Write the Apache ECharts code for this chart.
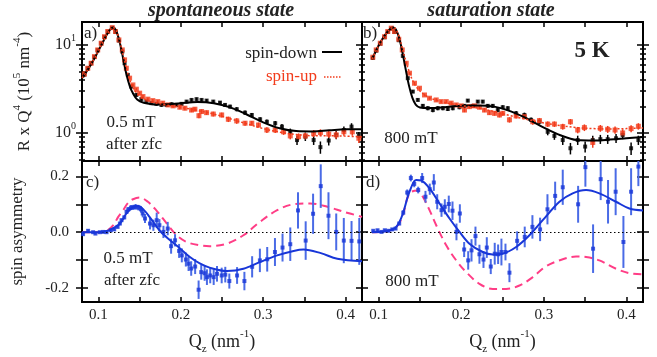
<!DOCTYPE html>
<html>
<head>
<meta charset="utf-8">
<script src="https://cdn.jsdelivr.net/npm/echarts@6/dist/echarts.min.js"></script>
<style>html,body{margin:0;padding:0;background:#fff}#chart{width:657px;height:357px}</style>
</head>
<body>
<div id="chart"></div>
<script>
var FONT = 'Liberation Serif';

// axis ticks and labels
var X_TICKS = [0.1, 0.15, 0.2, 0.25, 0.3, 0.35, 0.4];
var X_LABELS = [0.1, 0.2, 0.3, 0.4];
var LOG_MAJOR = [1, 10];
var LOG_MINOR = [0.5, 0.6, 0.7, 0.8, 0.9, 2, 3, 4, 5, 6, 7, 8, 9];
var ASYM_TICKS = [-0.2, -0.1, 0, 0.1, 0.2];
var ASYM_LABELS = [-0.2, 0, 0.2];

// a) spontaneous state, R x Q^4  [Qz, value]
var downA = [[0.0829,4.6],[0.087,5.4],[0.0911,6.2],[0.0951,7.3],[0.0991,8.7],[0.1033,10.4],[0.1073,12.3],[0.1113,14.1],[0.1167,15.6],[0.1207,14.0],[0.1248,11.2],[0.1289,8.4],
  [0.1317,6.19],[0.1357,4.56],[0.1399,3.36],[0.146,2.70],[0.1521,2.42],[0.1582,2.27],[0.1643,2.18],[0.1704,2.14],[0.1765,2.08],[0.1826,2.08],[0.1887,2.12],[0.1948,2.08],
  [0.2009,2.14],[0.207,2.27],[0.213,2.37],[0.2191,2.42],[0.2252,2.37],[0.2313,2.33],[0.2394,2.27],[0.2476,2.21],[0.2537,2.08],[0.2598,1.99],[0.2679,1.86],[0.278,1.70],
  [0.2862,1.60],[0.2963,1.43],[0.3045,1.34],[0.3146,1.29],[0.3228,1.18],[0.3329,1.03],[0.3411,0.83],[0.3512,0.91],[0.3613,0.83],[0.3695,0.69],[0.3796,0.82],[0.3887,0.95],
  [0.398,1.08],[0.4073,1.18],[0.4162,0.925]];
var errDownA = [0.3,0.3,0.3,0.3,0.3,0.3,0.3,0.3,0.3,0.3,0.3,0.3,
  0.3,0.2,0.15,0.12,0.1,0.1,0.1,0.1,0.1,0.1,0.1,0.1,
  0.1,0.1,0.1,0.1,0.1,0.1,0.1,0.1,0.1,0.1,0.1,0.1,
  0.08,0.08,0.08,0.08,0.08,0.09,0.1,0.1,0.1,0.11,0.1,0.1,
  0.1,0.11,0.1];
var upA = [[0.0829,4.68],[0.087,5.43],[0.0911,6.19],[0.0951,7.36],[0.0991,8.77],[0.1033,10.45],[0.1073,12.4],[0.1113,14.2],[0.1167,15.7],[0.1207,14.2],[0.1248,11.4],[0.1289,8.77],
  [0.1317,6.76],[0.1338,5.43],[0.1378,4.19],[0.1418,3.51],[0.146,3.14],[0.15,2.83],[0.154,2.59],[0.16,2.42],[0.166,2.33],[0.172,2.27],[0.178,2.18],[0.1845,2.08],
  [0.1906,2.03],[0.1988,1.96],[0.2049,1.91],[0.213,1.82],[0.2171,1.86],[0.222,1.57],[0.2252,1.75],[0.2313,1.70],[0.2394,1.64],[0.2496,1.60],[0.2577,1.43],[0.2679,1.37],
  [0.278,1.29],[0.2862,1.29],[0.2943,1.23],[0.3045,1.08],[0.3146,1.08],[0.3248,1.03],[0.3329,0.925],[0.343,0.908],[0.3512,0.925],[0.3613,0.99],[0.3695,1.01],[0.3796,0.97],
  [0.3887,0.95],[0.398,1.03],[0.4082,1.03],[0.4162,0.87]];
var errUpA = [0.3,0.3,0.3,0.3,0.3,0.3,0.3,0.3,0.3,0.3,0.3,0.3,
  0.25,0.2,0.15,0.12,0.1,0.1,0.1,0.1,0.1,0.1,0.1,0.1,
  0.1,0.1,0.1,0.1,0.1,0.1,0.1,0.1,0.1,0.1,0.1,0.1,
  0.08,0.08,0.08,0.08,0.08,0.08,0.08,0.08,0.08,0.09,0.09,0.09,
  0.09,0.1,0.1,0.1];
var fitDownA = [[0.08,4.2],[0.085,4.9],[0.09,5.8],[0.095,7.0],[0.1,8.6],[0.105,10.6],[0.11,13.0],[0.115,15.3],[0.118,15.8],[0.121,14.8],[0.125,11.5],[0.13,7.0],[0.134,4.6],
  [0.138,3.4],[0.142,2.8],[0.147,2.4],[0.155,2.2],[0.165,2.12],[0.18,2.1],[0.2,2.18],[0.22,2.25],[0.24,2.18],[0.26,1.95],[0.28,1.62],[0.3,1.32],[0.32,1.13],[0.34,1.05],
  [0.36,1.04],[0.38,1.07],[0.4,1.1],[0.42,1.1]];
var fitUpA = [[0.08,4.2],[0.085,4.9],[0.09,5.8],[0.095,7.0],[0.1,8.6],[0.105,10.6],[0.11,13.0],[0.115,15.3],[0.118,15.8],[0.121,14.8],[0.125,11.8],[0.13,7.6],[0.134,5.4],
  [0.138,4.0],[0.142,3.3],[0.147,2.8],[0.155,2.45],[0.165,2.25],[0.18,2.1],[0.2,1.95],[0.22,1.8],[0.24,1.64],[0.26,1.45],[0.28,1.27],[0.3,1.12],[0.32,1.02],[0.34,0.96],
  [0.36,0.93],[0.38,0.93],[0.4,0.92],[0.42,0.9]];

// b) saturation state, R x Q^4
var downB = [[0.0931,7.1],[0.0972,8.6],[0.1021,10.3],[0.1073,12.2],[0.1112,14.0],[0.1154,15.3],[0.1193,14.0],[0.1245,11.3],
  [0.1294,7.5],[0.1354,4.19],[0.1415,2.95],[0.1475,2.37],[0.1536,2.03],[0.1596,1.91],[0.1657,1.82],[0.1717,1.91],[0.1778,1.91],[0.1838,1.87],[0.1898,1.91],[0.1979,1.96],
  [0.204,2.03],[0.208,2.33],[0.214,2.03],[0.2201,2.27],[0.2261,2.27],[0.2322,2.03],[0.2382,2.03],[0.2443,1.82],[0.2503,1.96],[0.2564,1.91],[0.2665,1.67],[0.2765,1.60],
  [0.2846,1.41],[0.2947,1.34],[0.3047,1.03],[0.3128,0.925],[0.3229,0.83],[0.3322,0.67],[0.341,0.83],[0.35,0.70],[0.3592,0.83],[0.3684,0.85],[0.3773,0.85],[0.3874,0.87],
  [0.3954,0.95],[0.4056,0.67],[0.4144,0.83]];
var errDownB = [0.3,0.3,0.3,0.3,0.3,0.3,0.3,0.3,
  0.3,0.15,0.12,0.1,0.1,0.1,0.1,0.1,0.1,0.1,0.1,0.1,
  0.1,0.1,0.1,0.1,0.1,0.1,0.1,0.1,0.1,0.1,0.1,0.1,
  0.09,0.09,0.09,0.09,0.1,0.1,0.1,0.1,0.1,0.1,0.1,0.1,
  0.1,0.11,0.1];
var upB = [[0.0931,7.25],[0.0972,8.77],[0.1021,10.45],[0.1073,12.4],[0.1112,14.2],[0.1154,15.5],[0.1193,14.2],[0.1245,11.6],[0.1287,8.77],[0.1335,6.19],[0.1375,4.77],
  [0.1435,3.67],[0.1496,3.22],[0.1556,2.70],[0.1617,2.48],[0.1698,2.37],[0.1758,2.27],[0.1819,2.27],[0.1879,2.18],[0.194,2.08],[0.2,2.03],[0.204,1.82],[0.21,1.99],
  [0.2161,2.03],[0.2221,1.96],[0.2282,1.82],[0.2342,1.70],[0.2403,1.67],[0.2463,1.60],[0.2503,1.67],[0.2584,1.41],[0.2665,1.56],[0.2765,1.53],[0.2866,1.34],[0.2947,1.38],
  [0.3047,1.26],[0.3128,1.26],[0.3229,1.18],[0.3322,1.34],[0.341,1.08],[0.3491,1.15],[0.3592,0.78],[0.3684,1.13],[0.3773,1.10],[0.3862,1.08],[0.3954,1.0],[0.4056,1.12],
  [0.4144,1.19]];
var errUpB = [0.3,0.3,0.3,0.3,0.3,0.3,0.3,0.3,0.3,0.2,0.15,
  0.12,0.12,0.1,0.1,0.1,0.1,0.1,0.1,0.1,0.1,0.1,0.1,
  0.1,0.1,0.1,0.1,0.1,0.1,0.1,0.1,0.1,0.1,0.1,0.1,
  0.09,0.09,0.09,0.1,0.09,0.1,0.1,0.1,0.1,0.1,0.1,0.1,
  0.1];
var fitDownB = [[0.092,6.9],[0.096,8.2],[0.1,9.8],[0.105,11.8],[0.11,13.8],[0.115,15.4],[0.118,15.8],[0.121,15.0],[0.125,12.0],[0.129,8.2],[0.133,5.2],[0.137,3.4],
  [0.141,2.5],[0.145,2.1],[0.15,1.95],[0.16,1.92],[0.17,1.92],[0.18,1.96],[0.2,2.03],[0.22,2.05],[0.24,1.99],[0.26,1.76],[0.28,1.45],[0.3,1.15],[0.32,0.94],[0.34,0.83],
  [0.36,0.82],[0.38,0.84],[0.4,0.87],[0.42,0.9]];
var fitUpB = [[0.092,6.9],[0.096,8.2],[0.1,9.8],[0.105,11.8],[0.11,13.8],[0.115,15.4],[0.118,15.8],[0.121,15.0],[0.125,12.4],[0.129,9.0],[0.133,6.6],[0.137,5.0],
  [0.141,4.0],[0.145,3.4],[0.15,3.0],[0.16,2.55],[0.17,2.35],[0.18,2.22],[0.2,2.05],[0.22,1.92],[0.24,1.75],[0.26,1.57],[0.28,1.42],[0.3,1.3],[0.32,1.21],[0.34,1.15],
  [0.36,1.12],[0.38,1.11],[0.4,1.12],[0.42,1.14]];

// c) spontaneous state, spin asymmetry  [Qz, value, error]
var asymC = [[0.0813,-0.007,0.005],[0.0874,0.005,0.005],[0.0935,0.0,0.004],[0.0963,-0.005,0.004],[0.1016,0.0,0.004],[0.1057,0.001,0.004],[0.1098,0.0,0.004],
  [0.115,0.007,0.005],[0.1191,0.01,0.005],[0.1232,0.019,0.005],[0.126,0.031,0.006],[0.128,0.043,0.006],[0.1313,0.053,0.007],[0.1341,0.073,0.008],[0.1362,0.082,0.008],
  [0.1394,0.088,0.009],[0.1423,0.089,0.009],[0.1451,0.091,0.01],[0.1484,0.088,0.01],[0.1516,0.082,0.012],[0.1537,0.067,0.014],[0.1565,0.049,0.016],[0.1626,0.031,0.021],
  [0.1667,0.025,0.02],[0.1707,0.043,0.027],[0.174,0.025,0.022],[0.1789,0.001,0.022],[0.1841,0.013,0.024],[0.1882,-0.05,0.027],[0.193,-0.029,0.022],[0.1979,-0.067,0.025],
  [0.2012,-0.083,0.025],[0.2061,-0.098,0.025],[0.2094,-0.113,0.026],[0.2126,-0.13,0.026],[0.2174,-0.123,0.027],[0.2216,-0.206,0.033],[0.2248,-0.143,0.027],
  [0.2289,-0.147,0.027],[0.2317,-0.161,0.028],[0.2357,-0.155,0.028],[0.2399,-0.161,0.028],[0.2439,-0.149,0.028],[0.2496,-0.155,0.028],[0.254,-0.152,0.028],
  [0.2589,-0.175,0.027],[0.2683,-0.155,0.03],[0.2772,-0.175,0.033],[0.2866,-0.124,0.038],[0.296,-0.101,0.042],[0.3049,-0.097,0.044],[0.3143,-0.071,0.05],
  [0.3235,-0.055,0.05],[0.3329,-0.043,0.06],[0.3423,0.078,0.065],[0.3516,-0.03,0.069],[0.3606,0.066,0.072],[0.3699,0.165,0.078],[0.3793,0.059,0.084],
  [0.3887,0.001,0.066],[0.3979,-0.03,0.081],[0.4073,-0.031,0.071],[0.4167,-0.033,0.084]];
var fitAsymC = [[0.08,0],[0.1,0],[0.11,0.004],[0.118,0.015],[0.126,0.031],[0.134,0.067],[0.142,0.09],[0.148,0.094],[0.155,0.08],[0.162,0.055],[0.174,0.007],
  [0.187,-0.029],[0.199,-0.058],[0.211,-0.089],[0.223,-0.112],[0.235,-0.127],[0.256,-0.139],[0.276,-0.131],[0.296,-0.107],[0.317,-0.083],[0.337,-0.067],[0.349,-0.062],
  [0.37,-0.075],[0.39,-0.095],[0.42,-0.104]];
var simAsymC = [[0.08,0],[0.1,0],[0.11,0.005],[0.118,0.025],[0.124,0.055],[0.13,0.079],[0.136,0.105],[0.142,0.118],[0.15,0.124],[0.16,0.109],[0.17,0.079],
  [0.183,0.031],[0.195,-0.011],[0.207,-0.035],[0.223,-0.047],[0.235,-0.05],[0.256,-0.041],[0.276,-0.011],[0.296,0.037],[0.317,0.079],[0.337,0.1],[0.357,0.103],
  [0.378,0.091],[0.398,0.073],[0.42,0.055]];

// d) saturation state, spin asymmetry
var asymD = [[0.0936,0.005,0.004],[0.0988,0.007,0.004],[0.1036,0.001,0.004],[0.1076,0.007,0.004],[0.1117,0.005,0.004],[0.1166,0.01,0.005],[0.1206,0.013,0.005],
  [0.125,0.031,0.006],[0.1299,0.07,0.009],[0.1347,0.142,0.011],[0.1391,0.194,0.012],[0.1432,0.173,0.012],[0.148,0.151,0.012],[0.1528,0.194,0.018],[0.1568,0.127,0.021],
  [0.162,0.154,0.02],[0.1669,0.178,0.03],[0.171,0.109,0.027],[0.1762,0.079,0.024],[0.1802,0.091,0.027],[0.185,0.101,0.03],[0.1895,0.077,0.033],[0.1943,0.001,0.03],
  [0.1984,0.067,0.033],[0.2036,-0.062,0.027],[0.2085,-0.101,0.033],[0.2125,-0.065,0.04],[0.2173,-0.014,0.034],[0.2221,-0.079,0.034],[0.227,-0.098,0.03],
  [0.231,-0.055,0.037],[0.2358,-0.123,0.027],[0.2406,-0.077,0.039],[0.2447,-0.079,0.035],[0.2487,-0.071,0.048],[0.2536,-0.071,0.03],[0.2584,-0.145,0.034],
  [0.2677,-0.031,0.034],[0.2769,-0.017,0.037],[0.2862,0.019,0.042],[0.2955,0.01,0.042],[0.3044,0.082,0.054],[0.3137,0.13,0.051],[0.3229,0.161,0.063],
  [0.3415,0.1,0.066],[0.3503,0.233,0.07],[0.3596,-0.059,0.087],[0.3688,0.19,0.075],[0.3777,0.109,0.078],[0.3869,0.145,0.084],[0.3963,-0.035,0.093],
  [0.4056,0.145,0.084],[0.4144,0.235,0.07]];
var fitAsymD = [[0.092,0],[0.11,0.003],[0.12,0.015],[0.125,0.035],[0.1295,0.067],[0.1375,0.145],[0.1456,0.187],[0.1516,0.185],[0.1617,0.157],[0.1738,0.103],
  [0.1859,0.049],[0.198,0.001],[0.21,-0.041],[0.2261,-0.071],[0.2382,-0.08],[0.2503,-0.077],[0.2665,-0.053],[0.2826,-0.011],[0.2987,0.043],[0.3189,0.109],
  [0.3349,0.139],[0.3511,0.151],[0.3672,0.139],[0.3874,0.109],[0.4035,0.085],[0.42,0.078]];
var simAsymD = [[0.092,0],[0.11,0.003],[0.12,0.015],[0.125,0.032],[0.1295,0.061],[0.1375,0.139],[0.1475,0.149],[0.1536,0.127],[0.1617,0.079],[0.1698,0.025],
  [0.1819,-0.047],[0.194,-0.101],[0.2061,-0.143],[0.2221,-0.185],[0.2382,-0.203],[0.2544,-0.203],[0.2705,-0.191],[0.2866,-0.161],[0.3028,-0.122],[0.3229,-0.097],
  [0.339,-0.087],[0.3511,-0.089],[0.3672,-0.101],[0.3874,-0.131],[0.4035,-0.147],[0.42,-0.151]];

var chart = echarts.init(document.getElementById('chart'));

var grids = [
    {left: 82, top: 22, width: 280, height: 139},
    {left: 362, top: 22, width: 281, height: 139},
    {left: 82, top: 161, width: 280, height: 141},
    {left: 362, top: 161, width: 281, height: 141}
];

// rich styles for super/subscripts: a tall line box pushes them up or down
function scriptRich(size, lh) {
    return {
        sup: {fontSize: size, fontFamily: FONT, color: '#222', lineHeight: lh, verticalAlign: 'top'},
        sub: {fontSize: size, fontFamily: FONT, color: '#222', lineHeight: lh, verticalAlign: 'bottom'}
    };
}

var xAxes = [], yAxes = [];

function xAx(g, pos, extra) {
    xAxes.push(Object.assign({
        gridIndex: g, type: 'value', min: 0.08, max: 0.42, position: pos,
        splitLine: {show: false},
        axisLine: {show: true, onZero: false, lineStyle: {color: '#000', width: 2}},
        axisTick: {show: true, inside: true, length: 5, customValues: X_TICKS, lineStyle: {color: '#000', width: 1.5}},
        axisLabel: {show: false}
    }, extra || {}));
}

function yAx(g, pos, ticks, len, inside, extra) {
    var top = g < 2;
    yAxes.push(Object.assign({
        gridIndex: g, position: pos,
        type: top ? 'log' : 'value', logBase: 10,
        min: top ? 0.48 : -0.25, max: top ? 18.2 : 0.255,
        splitLine: {show: false},
        axisLine: {show: true, onZero: false, lineStyle: {color: '#000', width: 2}},
        axisTick: {show: true, inside: inside, length: len, customValues: ticks, lineStyle: {color: '#000', width: 1.5}},
        axisLabel: {show: false}
    }, extra || {}));
}

// main axes: index g belongs to grid g
for (var g = 0; g < 4; g++) {
    var bottomRow = g >= 2;
    xAx(g, 'bottom', bottomRow ? {
        axisLabel: {show: true, customValues: X_LABELS, margin: 6, color: '#222', fontFamily: FONT, fontSize: 15,
            formatter: function (v) { return v.toFixed(1); }},
        name: 'Q{sub|z} (nm{sup|-1})', nameLocation: 'middle', nameGap: 27,
        nameTextStyle: {fontFamily: FONT, fontSize: 18, color: '#222', rich: scriptRich(11, 26)}
    } : {});
}
for (var g = 0; g < 4; g++) {
    var topRow = g < 2;
    var extra = {};
    if (g === 0) {
        extra = {
            axisLabel: {show: true, customValues: LOG_MAJOR, margin: 6, color: '#222', fontFamily: FONT, fontSize: 16,
                formatter: function (v) { return v > 5 ? '10{sup|1}' : '10{sup|0}'; }, rich: scriptRich(10, 24)},
            name: 'R x Q{sup|4} (10{sup|5} nm{sup|-4})', nameLocation: 'middle', nameGap: 44, nameRotate: 90,
            nameTextStyle: {fontFamily: FONT, fontSize: 17, color: '#222', rich: scriptRich(11, 26)}
        };
    }
    if (g === 2) {
        extra = {
            axisLabel: {show: true, customValues: ASYM_LABELS, margin: 13, color: '#222', fontFamily: FONT, fontSize: 15,
                formatter: function (v) { return v.toFixed(1); }},
            name: 'spin asymmetry', nameLocation: 'middle', nameGap: 56, nameRotate: 90,
            nameTextStyle: {fontFamily: FONT, fontSize: 17, color: '#222'}
        };
    }
    yAx(g, 'left', topRow ? LOG_MAJOR : ASYM_TICKS, 6, true, extra);
}

// decoration axes (ticks only)
for (var g = 0; g < 4; g++) {
    var topRow = g < 2;
    xAx(g, 'top');
    yAx(g, 'right', topRow ? LOG_MAJOR : ASYM_TICKS, 6, true);
    if (topRow) {
        yAx(g, 'left', LOG_MINOR, 3, true);
        yAx(g, 'right', LOG_MINOR, 3, true);
    }
    var outer = (g % 2 === 0) ? 'left' : 'right';
    yAx(g, outer, topRow ? LOG_MAJOR : ASYM_TICKS, 6, false);
    if (topRow) yAx(g, outer, LOG_MINOR, 3, false);
}

function pts(arr) { return arr.map(function (p) { return [p[0], p[1]]; }); }

function scatter(g, data, color, size, z) {
    return {type: 'scatter', xAxisIndex: g, yAxisIndex: g, data: data, symbol: 'rect', symbolSize: size,
        itemStyle: {color: color}, z: z, silent: true};
}

function fitLine(g, data, color, width, dash, z, extra) {
    return Object.assign({type: 'line', xAxisIndex: g, yAxisIndex: g, data: data, smooth: 0.35, showSymbol: false,
        lineStyle: {color: color, width: width, type: dash}, z: z, silent: true}, extra || {});
}

function errBars(g, data, errs, color, width, z) {
    return {
        type: 'custom', xAxisIndex: g, yAxisIndex: g, z: z, silent: true,
        data: data.map(function (p, i) { return [p[0], p[1] - errs[i], p[1] + errs[i]]; }),
        encode: {x: 0, y: [1, 2]},
        renderItem: function (params, api) {
            var lo = api.coord([api.value(0), api.value(1)]);
            var hi = api.coord([api.value(0), api.value(2)]);
            var cs = params.coordSys;
            var y1 = Math.min(Math.max(lo[1], cs.y), cs.y + cs.height);
            var y2 = Math.min(Math.max(hi[1], cs.y), cs.y + cs.height);
            return {type: 'line', shape: {x1: lo[0], y1: y1, x2: hi[0], y2: y2},
                style: {stroke: color, lineWidth: width}};
        }
    };
}

var zeroLine = {silent: true, symbol: 'none', label: {show: false},
    lineStyle: {color: '#000', type: [1.5, 2.5], width: 1}, data: [{yAxis: 0}]};

var BLACK = '#000', RED = '#f23c1c', BLUE = '#1836d8', BLUE_BAR = '#4a6be6', PINK = '#ff3d86';

var series = [
    errBars(0, downA, errDownA, BLACK, 1.5, 3),
    scatter(0, downA, BLACK, 4, 4),
    errBars(0, upA, errUpA, RED, 1.5, 4),
    scatter(0, upA, RED, 5, 5),
    fitLine(0, fitDownA, BLACK, 2, 'solid', 6),
    fitLine(0, fitUpA, RED, 1.5, [2, 2], 6),
    errBars(1, downB, errDownB, BLACK, 1.5, 3),
    scatter(1, downB, BLACK, 4, 4),
    errBars(1, upB, errUpB, RED, 1.5, 4),
    scatter(1, upB, RED, 5, 5),
    fitLine(1, fitDownB, BLACK, 2, 'solid', 6),
    fitLine(1, fitUpB, RED, 1.5, [2, 2], 6),
    fitLine(2, simAsymC, PINK, 2, [8, 5], 2, {markLine: zeroLine}),
    errBars(2, asymC, asymC.map(function (p) { return p[2]; }), BLUE_BAR, 2, 3),
    scatter(2, pts(asymC), BLUE, 4, 4),
    fitLine(2, fitAsymC, BLUE, 2, 'solid', 5),
    fitLine(3, simAsymD, PINK, 2, [8, 5], 2, {markLine: zeroLine}),
    errBars(3, asymD, asymD.map(function (p) { return p[2]; }), BLUE_BAR, 2, 3),
    scatter(3, pts(asymD), BLUE, 4, 4),
    fitLine(3, fitAsymD, BLUE, 2, 'solid', 5)
];

function txt(x, y, s, size, align, weight, style, color) {
    return {type: 'text', x: x, y: y, silent: true, z: 10,
        style: {text: s, fill: color || '#222', textAlign: align || 'left', textVerticalAlign: 'middle',
            font: (style || 'normal') + ' ' + (weight || 'normal') + ' ' + size + 'px "' + FONT + '"'}};
}

var graphics = [
    txt(221, 11, 'spontaneous state', 20, 'center', 'bold', 'italic'),
    txt(491, 11, 'saturation state', 20, 'center', 'bold', 'italic'),
    txt(84, 34, 'a)', 17), txt(363, 34, 'b)', 17),
    txt(86, 183, 'c)', 17), txt(366, 183, 'd)', 17),
    txt(131, 123, '0.5 mT', 17, 'center'), txt(134, 145, 'after zfc', 17, 'center'),
    txt(411, 139, '800 mT', 17, 'center'),
    txt(128, 259, '0.5 mT', 17, 'center'), txt(132, 281, 'after zfc', 17, 'center'),
    txt(412, 282, '800 mT', 17, 'center'),
    txt(317, 54, 'spin-down', 17, 'right', 'normal', 'normal', '#222'),
    txt(317, 77, 'spin-up', 17, 'right', 'normal', 'normal', RED),
    txt(592, 51, '5 K', 23, 'center', 'bold'),
    {type: 'line', silent: true, z: 10, shape: {x1: 322, y1: 52, x2: 342, y2: 52}, style: {stroke: '#000', lineWidth: 2}},
    {type: 'line', silent: true, z: 10, shape: {x1: 324, y1: 77, x2: 342, y2: 77}, style: {stroke: RED, lineWidth: 1.5, lineDash: [1.5, 1.5]}}
];

var option = {
    animation: false,
    backgroundColor: '#fff',
    grid: grids,
    xAxis: xAxes,
    yAxis: yAxes,
    series: series,
    graphic: graphics
};

chart.setOption(option);
</script>
</body>
</html>
